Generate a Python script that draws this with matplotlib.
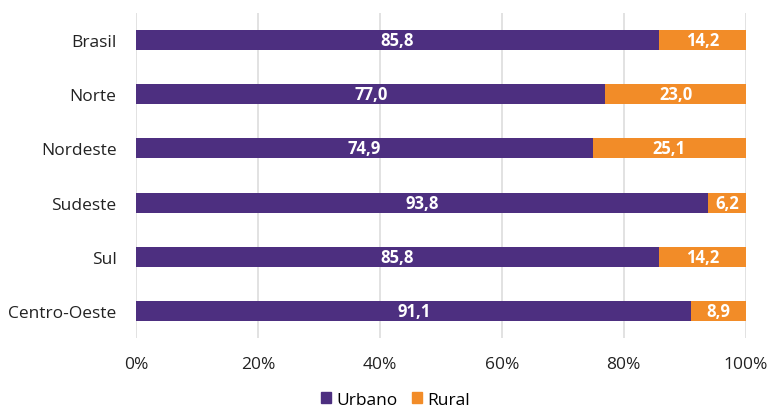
import matplotlib
matplotlib.use("Agg")
import matplotlib.pyplot as plt
from matplotlib.patches import Patch

categories = ["Brasil", "Norte", "Nordeste", "Sudeste", "Sul", "Centro-Oeste"]
urbano = [85.8, 77.0, 74.9, 93.8, 85.8, 91.1]
rural = [14.2, 23.0, 25.1, 6.2, 14.2, 8.9]
xticks = [0, 20, 40, 60, 80, 100]
xtick_labels = ["0%", "20%", "40%", "60%", "80%", "100%"]
series_names = ["Urbano", "Rural"]

c_urb = "#4D2F80"
c_rur = "#F28C28"

plt.rcParams["font.family"] = ["Open Sans", "DejaVu Sans"]

fig = plt.figure(figsize=(7.68, 4.10), dpi=100)
ax = fig.add_axes([0.177, 0.173, 0.794, 0.793])

y = list(range(len(categories)))
ax.barh(y, urbano, height=0.37, color=c_urb, zorder=3)
ax.barh(y, rural, left=urbano, height=0.37, color=c_rur, zorder=3)

def fmt(v):
    return f"{v:.1f}".replace(".", ",")

for i in y:
    ax.text(urbano[i] / 2, i, fmt(urbano[i]), ha="center", va="center",
            color="white", fontweight="bold", fontsize=12, zorder=4)
    ax.text(urbano[i] + rural[i] / 2, i, fmt(rural[i]), ha="center", va="center",
            color="white", fontweight="bold", fontsize=12, zorder=4)

ax.set_xlim(0, 100)
ax.set_ylim(5.5, -0.5)
ax.set_yticks(y)
ax.set_yticklabels(categories, fontsize=12.5, color="#222222")
ax.set_xticks(xticks)
ax.set_xticklabels(xtick_labels, fontsize=12.5, color="#222222")
ax.tick_params(axis="both", length=0)
ax.tick_params(axis="x", pad=13)
ax.tick_params(axis="y", pad=14)
ax.grid(axis="x", color="#DDDDDD", linewidth=1.2, zorder=0)
for s in ax.spines.values():
    s.set_visible(False)

handles = [Patch(color=c_urb, label=series_names[0]),
           Patch(color=c_rur, label=series_names[1])]
fig.legend(handles=handles, loc="lower center", bbox_to_anchor=(0.515, -0.022),
           ncol=2, frameon=False, fontsize=12.5, handlelength=0.6,
           handleheight=0.6, handletextpad=0.3, columnspacing=0.8,
           borderpad=0.1)

fig.savefig("out.png", dpi=100)
